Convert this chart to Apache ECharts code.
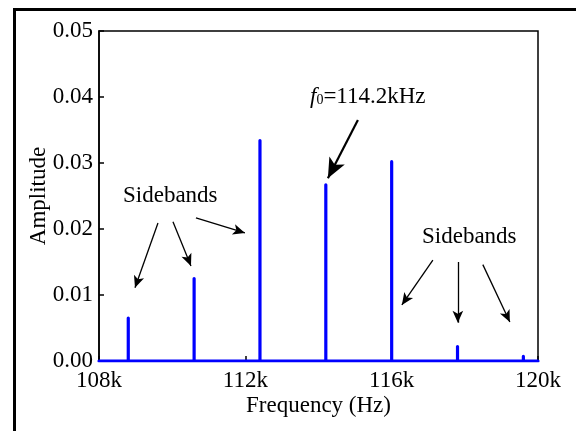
<!DOCTYPE html>
<html>
<head>
<meta charset="utf-8">
<title>Amplitude spectrum</title>
<script src="https://cdn.jsdelivr.net/npm/echarts@6/dist/echarts.min.js"></script>
<style>
html, body { margin: 0; padding: 0; background: #fff; }
#container { width: 576px; height: 431px; }
</style>
</head>
<body>
<div id="container"></div>
<script type="text/javascript">
// peaks of the spectrum (Hz, amplitude)
var peakFreqs = [108800, 110600, 112400, 114200, 116000, 117800, 119600];
var peakAmps = [0.0065, 0.0125, 0.0334, 0.0267, 0.0302, 0.0022, 0.0007];
var xTicks = [108000, 112000, 116000, 120000];
var yTicks = [0, 0.01, 0.02, 0.03, 0.04, 0.05];

// arrows, in data coordinates: [from, to]
var sideArrows = [
	[[109612, 0.0209], [108984, 0.0111]],
	[[110022, 0.0211], [110514, 0.0144]],
	[[110650, 0.0217], [111989, 0.0194]],
	[[117126, 0.0153], [116279, 0.0085]],
	[[117809, 0.0150], [117809, 0.0058]],
	[[118492, 0.0146], [119230, 0.0059]]
];
var f0Arrow = [[115077, 0.0365], [114257, 0.0277]];

var serif = "'Liberation Serif', 'Times New Roman', serif";

function buildSpectrum() {
	var pts = [[xTicks[0], 0]];
	for (var i = 0; i < peakFreqs.length; i++) {
		pts.push([peakFreqs[i], 0]);
		pts.push([peakFreqs[i], peakAmps[i]]);
		pts.push([peakFreqs[i], 0]);
	}
	pts.push([xTicks[xTicks.length - 1], 0]);
	return pts;
}

function arrowData(list) {
	var out = [];
	for (var i = 0; i < list.length; i++) {
		out.push([{ coord: list[i][0] }, { coord: list[i][1] }]);
	}
	return out;
}

var myChart = echarts.init(document.getElementById('container'));

var option = {
	backgroundColor: '#fff',
	animation: false,
	grid: {
		left: 99, top: 31, right: 38, bottom: 70,
		show: true, borderColor: '#000', borderWidth: 1.5
	},
	xAxis: {
		type: 'value',
		min: xTicks[0],
		max: xTicks[xTicks.length - 1],
		interval: 4000,
		name: 'Frequency (Hz)',
		nameLocation: 'middle',
		nameGap: 33,
		nameMoveOverlap: false,
		nameTextStyle: { fontFamily: serif, fontSize: 23, color: '#000' },
		axisLine: { lineStyle: { color: '#000', width: 1.5 } },
		axisTick: { inside: true, length: 5, lineStyle: { color: '#000', width: 1.5 } },
		axisLabel: {
			fontFamily: serif, fontSize: 23, color: '#000', margin: 8,
			formatter: function (v) { return (v / 1000) + 'k'; }
		},
		splitLine: { show: false }
	},
	yAxis: {
		type: 'value',
		min: yTicks[0],
		max: yTicks[yTicks.length - 1],
		interval: 0.01,
		name: 'Amplitude',
		nameLocation: 'middle',
		nameGap: 49,
		nameMoveOverlap: false,
		nameTextStyle: { fontFamily: serif, fontSize: 23, color: '#000' },
		axisLine: { show: true, lineStyle: { color: '#000', width: 1.5 } },
		axisTick: { show: true, inside: true, length: 5, lineStyle: { color: '#000', width: 1.5 } },
		axisLabel: {
			fontFamily: serif, fontSize: 23, color: '#000', margin: 6,
			formatter: function (v) { return v.toFixed(2); }
		},
		splitLine: { show: false }
	},
	series: [{
		type: 'line',
		data: buildSpectrum(),
		symbol: 'none',
		lineStyle: { color: '#0000ff', width: 3.2, cap: 'round', join: 'round' },
		z: 5,
		markLine: {
			silent: true,
			symbol: ['none', 'arrow'],
			symbolSize: [8, 12],
			label: { show: false },
			lineStyle: { color: '#000', width: 1.3, type: 'solid' },
			data: arrowData(sideArrows)
		}
	}, {
		type: 'line',
		data: [],
		markLine: {
			silent: true,
			symbol: ['none', 'arrow'],
			symbolSize: [13, 20],
			label: { show: false },
			lineStyle: { color: '#000', width: 2.2, type: 'solid' },
			data: arrowData([f0Arrow])
		}
	}],
	graphic: [
		{
			type: 'rect', silent: true, z: 100,
			shape: { x: 14.5, y: 9.5, width: 700, height: 600 },
			style: { fill: 'none', stroke: '#000', lineWidth: 3 }
		},
		{
			type: 'text', left: 123, top: 184,
			style: { text: 'Sidebands', font: '23px ' + serif, fill: '#000' }
		},
		{
			type: 'text', left: 422, top: 225,
			style: { text: 'Sidebands', font: '23px ' + serif, fill: '#000' }
		},
		{
			type: 'text', left: 310, top: 85,
			style: {
				text: '{i|f}{s|0}=114.2kHz',
				fill: '#000',
				rich: {
					i: { fontFamily: serif, fontSize: 23, fontStyle: 'italic', fill: '#000' },
					s: { fontFamily: serif, fontSize: 14, fill: '#000', padding: [8, 0, 0, 0] }
				},
				font: '23px ' + serif
			}
		}
	]
};

myChart.setOption(option);
</script>
</body>
</html>
